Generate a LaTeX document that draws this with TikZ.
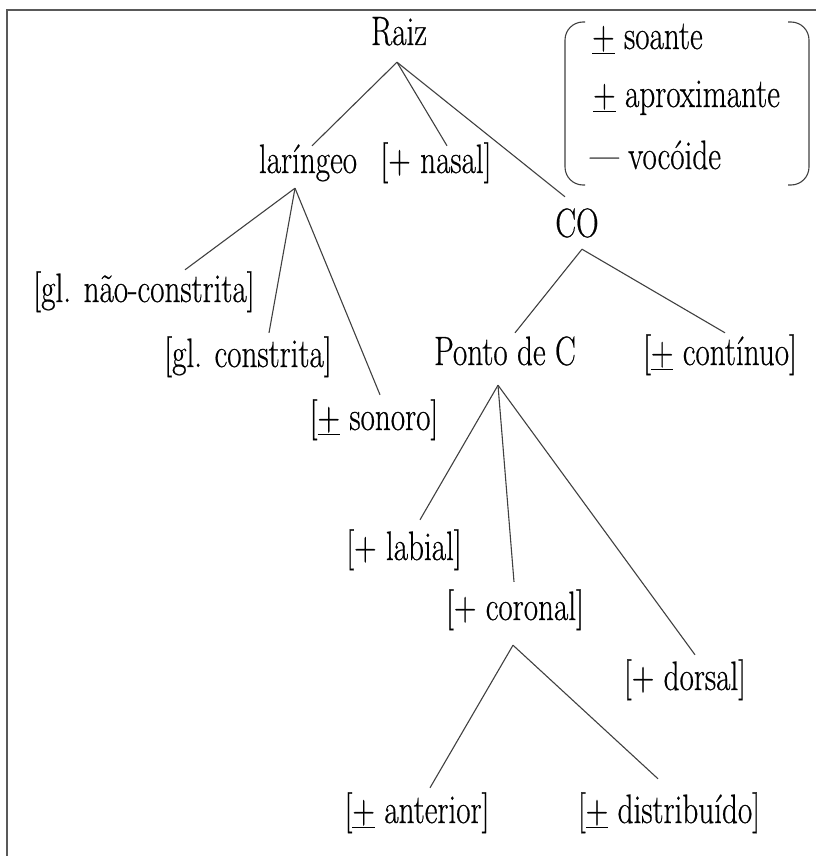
\documentclass[tikz,border=0pt]{standalone}
\usepackage{fontspec}
\usepackage{graphicx}
\setmainfont{Latin Modern Roman}[FakeBold=0.6]
\newcommand{\pmu}{\underline{+}}
\newcommand{\cx}[1]{\scalebox{0.76}[1]{#1}}
\begin{document}
\begin{tikzpicture}[x=1pt,y=-1pt,
  lbl/.style={font=\fontsize{41}{43}\selectfont, inner sep=0pt, text height=28pt, text depth=10pt, anchor=base},
  feat/.style={font=\fontsize{41}{43}\selectfont, inner sep=0pt, anchor=base west},
  edge/.style={draw=black!75, line width=1.1pt},
  frame/.style={draw=black!65, line width=1.8pt}]
\useasboundingbox (0,0) rectangle (816,856);
% frame (left and top edges)
\draw[frame] (7,856) -- (7,10) -- (816,10);
% nodes
\node[lbl] (raiz) at (399,45) {\cx{Raiz}};
\node[lbl] (lar) at (308,173) {\cx{laríngeo}};
\node[lbl] (nas) at (436,173) {\cx{[+ nasal]}};
\node[lbl] (co) at (577,237) {\cx{CO}};
\node[lbl] (gnc) at (144,302) {\cx{[gl. não-constrita]}};
\node[lbl] (gc) at (248,367) {\cx{[gl. constrita]}};
\node[lbl] (son) at (374,430) {\cx{[\pmu\ sonoro]}};
\node[lbl] (pc) at (505,365) {\cx{Ponto de C}};
\node[lbl] (cont) at (720,365) {\cx{[\pmu\ contínuo]}};
\node[lbl] (lab) at (404,560) {\cx{[+ labial]}};
\node[lbl] (cor) at (515,620) {\cx{[+ coronal]}};
\node[lbl] (dor) at (685,690) {\cx{[+ dorsal]}};
\node[lbl] (ant) at (417,823) {\cx{[\pmu\ anterior]}};
\node[lbl] (dist) at (669,823) {\cx{[\pmu\ distribuído]}};
% feature bundle
\node[feat] (f1) at (592,49) {\cx{\pmu\ soante}};
\node[feat] (f2) at (593,107) {\cx{\pmu\ aproximante}};
\node[feat] (f3) at (590,169) {\cx{— vocóide}};
\draw[edge, rounded corners=18pt] (585,22) -- (565,22) -- (565,185) -- (585,185);
\draw[edge, rounded corners=18pt] (788,22) -- (809,22) -- (809,185) -- (788,185);
% connectors
\draw[edge] ([xshift=-2pt,yshift=-7pt]raiz.south) -- ([xshift=4pt,yshift=-1pt]lar.north);
\draw[edge] ([xshift=-2pt,yshift=-7pt]raiz.south) -- ([xshift=11pt,yshift=-1pt]nas.north);
\draw[edge] ([xshift=-2pt,yshift=-7pt]raiz.south) -- ([xshift=-12pt,yshift=12pt]co.north);
\draw[edge] ([xshift=-13pt,yshift=-5pt]lar.south) -- ([xshift=41pt,yshift=4pt]gnc.north);
\draw[edge] ([xshift=-13pt,yshift=-5pt]lar.south) -- ([xshift=21pt,yshift=6pt]gc.north);
\draw[edge] ([xshift=-13pt,yshift=-5pt]lar.south) -- ([xshift=6pt,yshift=7pt]son.north);
\draw[edge] ([xshift=5pt,yshift=-2pt]co.south) -- ([xshift=10pt,yshift=4pt]pc.north);
\draw[edge] ([xshift=5pt,yshift=-2pt]co.south) -- ([xshift=5pt,yshift=4pt]cont.north);
\draw[edge] ([xshift=-7pt,yshift=-10pt]pc.south) -- ([xshift=16pt,yshift=12pt]lab.north);
\draw[edge] ([xshift=-7pt,yshift=-10pt]pc.south) -- ([xshift=-1pt,yshift=10pt]cor.north);
\draw[edge] ([xshift=-7pt,yshift=-10pt]pc.south) -- ([xshift=10pt,yshift=7pt]dor.north);
\draw[edge] ([xshift=-2pt,yshift=-15pt]cor.south) -- ([xshift=13pt,yshift=7pt]ant.north);
\draw[edge] ([xshift=-2pt,yshift=-15pt]cor.south) -- ([xshift=-11pt,yshift=16pt]dist.north);
\end{tikzpicture}
\end{document}
